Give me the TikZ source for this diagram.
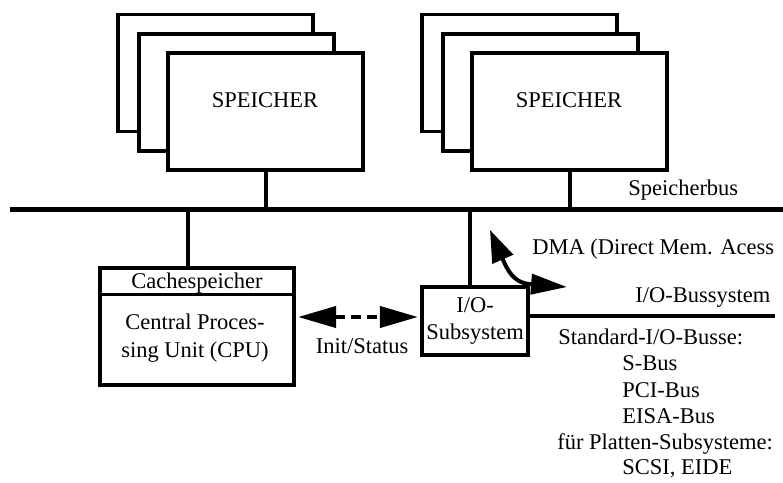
\documentclass[tikz,border=0pt]{standalone}
\usepackage{fontspec}
\setmainfont{Liberation Serif}
\usetikzlibrary{arrows.meta, positioning}

\begin{document}
\begin{tikzpicture}[
		x=0.25mm, y=-0.25mm,
		every node/.style={font=\fontsize{16}{19.8}\selectfont, align=center, inner sep=0pt},
		membox/.style={draw, line width=0.85mm, fill=white, minimum width=48.75mm, minimum height=29.25mm},
		cpubox/.style={draw, line width=0.85mm, minimum width=48.5mm, minimum height=29.25mm},
		iobox/.style={draw, line width=0.85mm, minimum width=26.5mm, minimum height=17mm},
		bus/.style={line width=1.25mm},
		stem/.style={line width=1mm},
		statusarrow/.style={{Triangle[length=9.5mm, width=5.25mm]}-{Triangle[length=9.5mm, width=5.25mm]}, line width=1mm, dash pattern=on 2.5mm off 1.5mm, shorten <=0.6mm, shorten >=0.6mm},
		dmaarrow/.style={{Triangle[length=8mm, width=5.5mm]}-{Triangle[length=9mm, width=5mm]}, line width=1mm, line join=round}
		]
		
		\useasboundingbox (0,0) rectangle (783,482);
		
		% Memory stacks
		\node[membox] (memLback) at (215.5,73) {};
		\node[membox] (memLmid) at (236.5,92.5) {};
		\node[membox] (memL) at (265.5,111.5) {};
		\node (memLtext) at (265,100) {SPEICHER};
		
		\node[membox] (memRback) at (519.5,73) {};
		\node[membox] (memRmid) at (540.5,92.5) {};
		\node[membox] (memR) at (569.5,111.5) {};
		\node (memRtext) at (569,100) {SPEICHER};
		
		% Speicherbus
		\coordinate (busW) at (10,209);
		\coordinate (busE) at (783,209);
		\draw[bus] (busW) -- (busE);
		\node[anchor=base west] (busLabel) at (628,195) {Speicherbus};
		
		\draw[stem] (memL.south) -- (memL.south |- busW);
		\draw[stem] (memR.south) -- (memR.south |- busW);
		
		% CPU
		\node[cpubox] (cpu) at (197,326.5) {};
		\draw[line width=0.85mm] ([yshift=-7mm]cpu.north west) -- ([yshift=-7mm]cpu.north east);
		\node (cache) at (197,283) {Cachespeicher};
		\node (cpuText) at (195,338) {Central Proces-\\sing Unit (CPU)};
		\coordinate (cpuTap) at (188,209);
		\draw[stem] (cpuTap) -- (cpuTap |- cpu.north);
		
		% I/O subsystem
		\node[iobox] (io) at (475,321) {I/O-\\Subsystem};
		\coordinate (ioTap) at (470,209);
		\draw[stem] (ioTap) -- (ioTap |- io.north);
		\coordinate (ioBusE) at (775,316);
		\draw[stem] (io.east |- ioBusE) -- (ioBusE);
		\node[anchor=base west] (ioBusLabel) at (635,302) {I/O-Bussystem};
		
		% Init/Status
		\draw[statusarrow] (cpu.east |- 0,317) -- (io.west |- 0,317);
		\node (initLabel) at (362,346) {Init/Status};
		
		% DMA
		\coordinate (dmaTop) at (490,230);
		\coordinate (dmaEnd) at (567,287);
		\draw[dmaarrow] (dmaTop) -- (504,262) .. controls (510,276) and (518,283) .. (529,284) -- (dmaEnd);
		\node[anchor=base west] (dmaLabel) at (532,254) {DMA (Direct Mem. Acess};
		
		% Bus list
		\node[anchor=base west] (stdBus) at (558,344) {Standard-I/O-Busse:};
		\node[anchor=base west] (sBus) at (622,370) {S-Bus};
		\node[anchor=base west] (pciBus) at (622,397) {PCI-Bus};
		\node[anchor=base west] (eisaBus) at (622,423) {EISA-Bus};
		\node[anchor=base west] (diskBus) at (557,449) {für Platten-Subsysteme:};
		\node[anchor=base west] (scsiBus) at (622,474) {SCSI, EIDE};
		
	\end{tikzpicture}
\end{document}
